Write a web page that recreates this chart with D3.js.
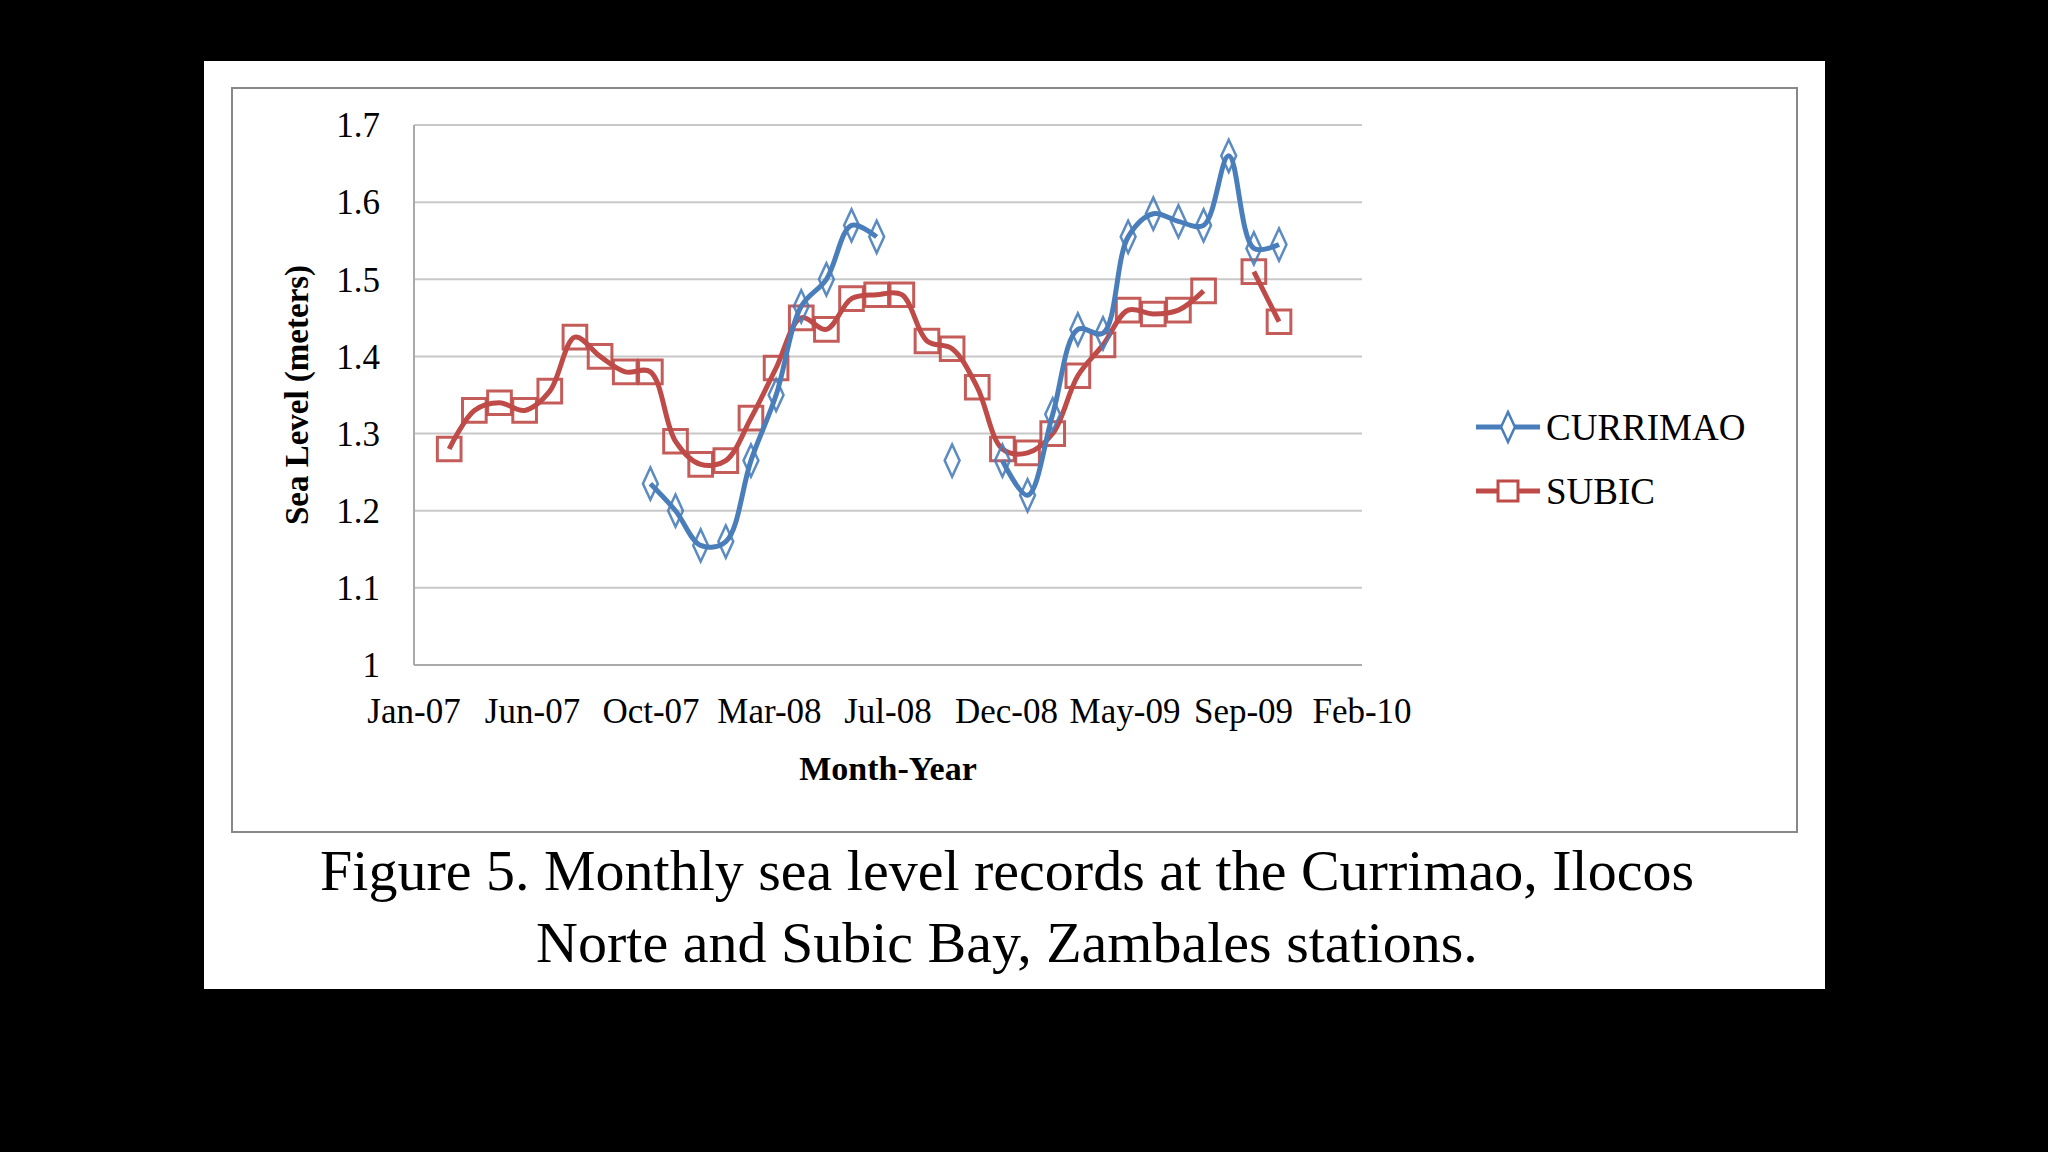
<!DOCTYPE html>
<html>
<head>
<meta charset="utf-8">
<script src="https://cdn.jsdelivr.net/npm/d3@7"></script>
<style>
  body { margin: 0; background: #000; }
  svg { display: block; }
</style>
</head>
<body>
<svg width="2048" height="1152"></svg>
<script>
// month index 0 = Feb-07 ... 33 = Nov-09
var months = d3.range(0, 34);
var currimao = [null, null, null, null, null, null, null, null,
  1.235, 1.20, 1.155, 1.16, 1.265, 1.35, 1.465, 1.50, 1.57, 1.555,
  null, null, 1.265, null,
  1.265, 1.22, 1.325, 1.435, 1.43, 1.555, 1.585, 1.575, 1.57, 1.66, 1.54, 1.545];
var subic = [1.28, 1.33, 1.34, 1.33, 1.355, 1.425, 1.40, 1.38, 1.38, 1.29, 1.26, 1.265,
  1.32, 1.385, 1.45, 1.435, 1.475, 1.48, 1.48, 1.42, 1.41, 1.36, 1.28, 1.275,
  1.30, 1.375, 1.415, 1.46, 1.455, 1.46, 1.485, null, 1.51, 1.445];
var xTickLabels = ["Jan-07", "Jun-07", "Oct-07", "Mar-08", "Jul-08", "Dec-08", "May-09", "Sep-09", "Feb-10"];
var yTicks = [1, 1.1, 1.2, 1.3, 1.4, 1.5, 1.6, 1.7];

var svg = d3.select("svg");
var font = "'Liberation Serif', 'Times New Roman', serif";

svg.append("rect").attr("x", 204).attr("y", 61).attr("width", 1621).attr("height", 928).attr("fill", "#fff");
svg.append("rect").attr("x", 232).attr("y", 88).attr("width", 1565).attr("height", 744)
    .attr("fill", "none").attr("stroke", "#888").attr("stroke-width", 2);

// x: linear month index, axis spans 8 equal intervals like Excel date axis
var x0 = -1.4, x1 = 36.3;
var x = d3.scaleLinear().domain([x0, x1]).range([414, 1362]);
var y = d3.scaleLinear().domain([1, 1.7]).range([665, 125]);

var g = svg.append("g");
g.selectAll("line.grid").data(yTicks.slice(1)).enter().append("line")
    .attr("x1", x(x0)).attr("x2", x(x1))
    .attr("y1", function(d) { return y(d); }).attr("y2", function(d) { return y(d); })
    .attr("stroke", "#c8c8c8").attr("stroke-width", 2);
g.append("line").attr("x1", x(x0)).attr("x2", x(x0)).attr("y1", y(1.7)).attr("y2", y(1))
    .attr("stroke", "#aaa").attr("stroke-width", 2);
g.append("line").attr("x1", x(x0)).attr("x2", x(x1)).attr("y1", y(1)).attr("y2", y(1))
    .attr("stroke", "#aaa").attr("stroke-width", 2);

g.selectAll("text.yt").data(yTicks).enter().append("text")
    .attr("x", 380).attr("y", function(d) { return y(d); }).attr("dy", "0.35em")
    .attr("text-anchor", "end").attr("font-family", font).attr("font-size", 35)
    .text(function(d) { return d3.format("")(+d.toFixed(1)); });

var step = (x1 - x0) / (xTickLabels.length - 1);
g.selectAll("text.xt").data(xTickLabels).enter().append("text")
    .attr("x", function(d, i) { return x(x0 + i * step); }).attr("y", 723)
    .attr("text-anchor", "middle").attr("font-family", font).attr("font-size", 35)
    .text(function(d) { return d; });

svg.append("text").attr("x", 888).attr("y", 780).attr("text-anchor", "middle")
    .attr("font-family", font).attr("font-size", 34).attr("font-weight", "bold").text("Month-Year");
svg.append("text").attr("transform", "translate(308,395) rotate(-90)").attr("text-anchor", "middle")
    .attr("font-family", font).attr("font-size", 33).attr("font-weight", "bold").text("Sea Level (meters)");

var blue = "#4a7ebb", red = "#be4b48";
var line = d3.line()
    .defined(function(d) { return d.v != null; })
    .x(function(d) { return x(d.m); }).y(function(d) { return y(d.v); })
    .curve(d3.curveCatmullRom.alpha(0.5));

function series(vals, color, shape) {
  var data = months.map(function(m, i) { return { m: m, v: vals[i] }; });
  svg.append("path").datum(data).attr("d", line).attr("fill", "none")
      .attr("stroke", color).attr("stroke-width", 5);
  var sym = d3.symbol().type(shape).size(shape === d3.symbolDiamond ? 300 : 560);
  svg.selectAll(null).data(data.filter(function(d) { return d.v != null; })).enter().append("path")
      .attr("d", sym)
      .attr("transform", function(d) {
        return "translate(" + x(d.m) + "," + y(d.v) + ")" + (shape === d3.symbolDiamond ? " scale(0.8,1)" : "");
      })
      .attr("fill", "none").attr("stroke", color).attr("stroke-width", 3).attr("opacity", 0.9);
}
series(subic, red, d3.symbolSquare);
series(currimao, blue, d3.symbolDiamond);

// legend
var legend = [{ name: "CURRIMAO", color: blue, shape: d3.symbolDiamond, y: 427 },
              { name: "SUBIC", color: red, shape: d3.symbolSquare, y: 491 }];
var lg = svg.selectAll("g.lg").data(legend).enter().append("g");
lg.append("line").attr("x1", 1476).attr("x2", 1540).attr("y1", function(d) { return d.y; }).attr("y2", function(d) { return d.y; })
    .attr("stroke", function(d) { return d.color; }).attr("stroke-width", 5);
lg.append("path").attr("d", function(d) { return d3.symbol().type(d.shape).size(d.shape === d3.symbolDiamond ? 260 : 400)(); })
    .attr("transform", function(d) { return "translate(1508," + d.y + ")" + (d.shape === d3.symbolDiamond ? " scale(0.8,1)" : ""); })
    .attr("fill", "#fff").attr("stroke", function(d) { return d.color; }).attr("stroke-width", 3);
lg.append("text").attr("x", 1546).attr("y", function(d) { return d.y; }).attr("dy", "0.35em")
    .attr("font-family", font).attr("font-size", 37).text(function(d) { return d.name; });

// caption
svg.append("text").attr("x", 1007).attr("y", 890).attr("text-anchor", "middle")
    .attr("font-family", font).attr("font-size", 58).text("Figure 5. Monthly sea level records at the Currimao, Ilocos");
svg.append("text").attr("x", 1007).attr("y", 962).attr("text-anchor", "middle")
    .attr("font-family", font).attr("font-size", 58).text("Norte and Subic Bay, Zambales stations.");
</script>
</body>
</html>
